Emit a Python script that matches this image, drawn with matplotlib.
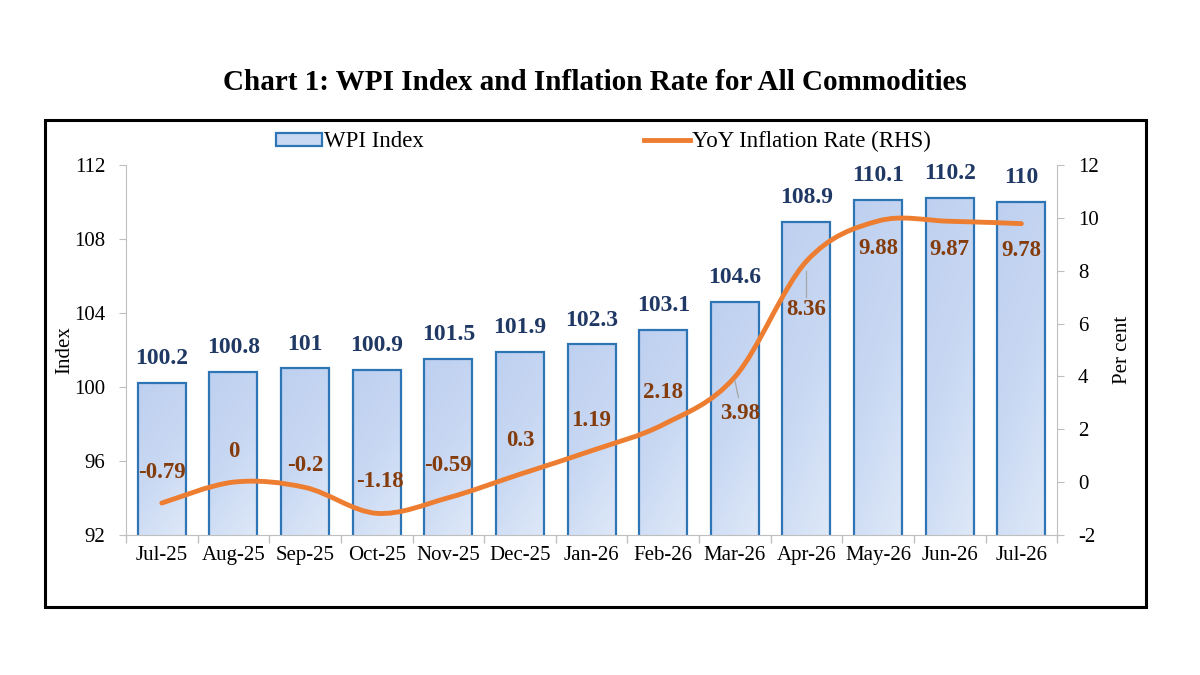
import numpy as np
import matplotlib
matplotlib.use("Agg")
import matplotlib.pyplot as plt
from matplotlib.path import Path
from matplotlib.patches import PathPatch, Rectangle, Patch
from matplotlib.lines import Line2D
from matplotlib.colors import LinearSegmentedColormap

plt.rcParams['font.family'] = ['Liberation Serif', 'DejaVu Serif']
plt.rcParams['axes.unicode_minus'] = False

months = ["Jul-25", "Aug-25", "Sep-25", "Oct-25", "Nov-25", "Dec-25", "Jan-26",
          "Feb-26", "Mar-26", "Apr-26", "May-26", "Jun-26", "Jul-26"]
wpi_index = [100.2, 100.8, 101, 100.9, 101.5, 101.9, 102.3, 103.1, 104.6, 108.9, 110.1, 110.2, 110]
inflation = [-0.79, 0, -0.2, -1.18, -0.59, 0.3, 1.19, 2.18, 3.98, 8.36, 9.88, 9.87, 9.78]
wpi_labels = ["100.2", "100.8", "101", "100.9", "101.5", "101.9", "102.3", "103.1",
              "104.6", "108.9", "110.1", "110.2", "110"]
infl_labels = ["-0.79", "0", "-0.2", "-1.18", "-0.59", "0.3", "1.19", "2.18",
               "3.98", "8.36", "9.88", "9.87", "9.78"]

bar_fill = "#C9D9F3"
bar_edge = "#2E75B6"
line_col = "#ED7D31"
bar_txt = "#1F3864"
line_txt = "#843C0C"
axis_col = "#BFBFBF"

fig = plt.figure(figsize=(12, 6.75), dpi=100)
ax = fig.add_axes([0.105, 0.2074, 0.776, 0.5482])
ax2 = ax.twinx()

x = np.arange(len(months))
bars = ax.bar(x, wpi_index, width=0.67, bottom=0, facecolor="none", edgecolor=bar_edge,
              linewidth=1.6, zorder=2)

# gradient fill inside the bars
grad_cmap = LinearSegmentedColormap.from_list("g", ["#DEE8F8", "#C8D8F3", "#BED0F0"])
gy, gx = np.mgrid[0:1:100j, 0:1:50j]
grad = 0.7 * gy + 0.3 * (1 - gx)
for b in bars:
    x0, w, h = b.get_x(), b.get_width(), b.get_height()
    im = ax.imshow(grad, cmap=grad_cmap, vmin=0, vmax=1, origin="lower", aspect="auto",
                   extent=(x0, x0 + w, 92, h), zorder=1.5, interpolation="bilinear")
    im.set_clip_path(b)

ax.set_ylim(92, 112)
ax.set_yticks(np.arange(92, 113, 4))
ax.set_xlim(-0.5, len(months) - 0.5)
ax.set_xticks(x)
ax.set_xticklabels(months, fontsize=15)
ax.set_xticks(np.arange(-0.5, len(months), 1), minor=True)
ax.tick_params(axis='x', which='major', length=0, pad=8)
ax.tick_params(axis='x', which='minor', length=6, color=axis_col, width=1)
ax.tick_params(axis='y', labelsize=15, length=5, color=axis_col, pad=10)
ax.set_ylabel("Index", fontsize=15, labelpad=0)

for s in ["top", "right"]:
    ax.spines[s].set_visible(False)
for s in ["left", "bottom"]:
    ax.spines[s].set_color(axis_col)

for xi, v, t in zip(x, wpi_index, wpi_labels):
    ax.annotate(t, (xi, v), xytext=(0, 10), textcoords="offset points",
                ha="center", va="bottom", fontsize=17, fontweight="bold", color=bar_txt)

# smoothed line (Bezier through the data points, like Excel's smoothed line)
pts = np.column_stack([x, inflation]).astype(float)
ext = np.vstack([pts[0], pts, pts[-1]])
verts = [tuple(pts[0])]
codes = [Path.MOVETO]
for i in range(len(pts) - 1):
    p0, p1, p2, p3 = ext[i], ext[i + 1], ext[i + 2], ext[i + 3]
    c1 = p1 + (p2 - p0) / 6
    c2 = p2 - (p3 - p1) / 6
    verts += [tuple(c1), tuple(c2), tuple(p2)]
    codes += [Path.CURVE4] * 3
ax2.add_patch(PathPatch(Path(verts, codes), facecolor="none", edgecolor=line_col,
                        lw=3.5, capstyle="round", zorder=3))
ax2.set_ylim(-2, 12)
ax2.set_yticks(np.arange(-2, 13, 2))
ax2.tick_params(axis='y', labelsize=15, length=5, color=axis_col, pad=10)
ax2.set_ylabel("Per cent", fontsize=15, labelpad=10)
for s in ["top", "left", "bottom"]:
    ax2.spines[s].set_visible(False)
ax2.spines["right"].set_color(axis_col)

# line labels: above for the first eight, below for the rest
offsets = [(0, 22), (0, 22), (0, 16), (2, 23), (0, 23), (0, 24), (0, 22), (0, 23),
           (4, -26), (0, -35), (0, -20), (0, -20), (0, -19)]
for xi, v, t, off in zip(x, inflation, infl_labels, offsets):
    ax2.annotate(t, (xi, v), xytext=off, textcoords="offset points",
                 ha="center", va="center", fontsize=16.5, fontweight="bold", color=line_txt, zorder=4)
# leader lines for Mar-26 and Apr-26
ax2.plot([8.0, 8.05], [3.85, 3.2], color="#A6A6A6", lw=0.9, zorder=4)
ax2.plot([9.0, 9.0], [8.0, 7.0], color="#A6A6A6", lw=0.9, zorder=4)

handles = [Patch(facecolor=bar_fill, edgecolor=bar_edge, linewidth=1.6),
           Line2D([0], [0], color=line_col, lw=3.5)]
fig.legend(handles, ["WPI Index", "YoY Inflation Rate (RHS)"], loc="center",
           bbox_to_anchor=(0.503, 0.79), ncol=2, frameon=False, fontsize=16.5,
           columnspacing=9.6, handlelength=2.0, handletextpad=0.1, handleheight=0.5)

fig.text(0.496, 0.878, "Chart 1: WPI Index and Inflation Rate for All Commodities",
         ha="center", va="center", fontsize=21, fontweight="bold")

fig.patches.append(Rectangle((0.0375, 0.1007), 0.9175, 0.7213, transform=fig.transFigure,
                             fill=False, edgecolor="black", linewidth=2.2))

fig.savefig("out.png", dpi=100)
